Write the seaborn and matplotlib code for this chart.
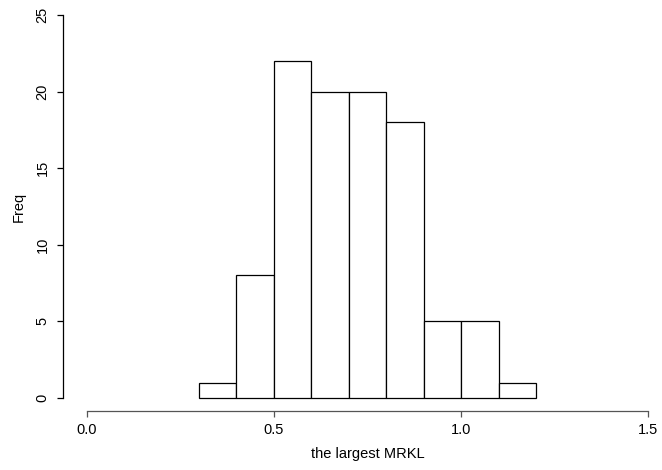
import numpy as np
import pandas as pd
import matplotlib
matplotlib.use("Agg")
import matplotlib.pyplot as plt
import seaborn as sns

bin_edges = [0.3, 0.4, 0.5, 0.6, 0.7, 0.8, 0.9, 1.0, 1.1, 1.2]
counts = [1, 8, 22, 20, 20, 18, 5, 5, 1]
x_ticks = [0.0, 0.5, 1.0, 1.5]
x_tick_labels = ["0.0", "0.5", "1.0", "1.5"]
y_ticks = [0, 5, 10, 15, 20, 25]
y_tick_labels = ["0", "5", "10", "15", "20", "25"]

sns.set_style("white")
plt.rcParams['font.family'] = ['Liberation Sans', 'DejaVu Sans']

W, H = 662, 470
fig = plt.figure(figsize=(W / 100, H / 100), dpi=100)
x0, x1 = 86.7, 648.4
y0, y1 = 398, 15
ax = fig.add_axes([x0 / W, (H - y0) / H, (x1 - x0) / W, (y0 - y1) / H])

centers = [(a + b) / 2 for a, b in zip(bin_edges[:-1], bin_edges[1:])]
df = pd.DataFrame({"x": centers, "w": counts})
sns.histplot(data=df, x="x", weights="w", bins=bin_edges, ax=ax,
             color="white", edgecolor="black", linewidth=0.9, alpha=1)
for p in ax.patches:
    p.set_clip_on(False)
    p.set_facecolor("white")
    p.set_edgecolor("black")

ax.set_xlim(0, 1.5)
ax.set_ylim(0, 25)
ax.spines['top'].set_visible(False)
ax.spines['right'].set_visible(False)
ax.spines['bottom'].set_position(('outward', 13 * 0.72))
ax.spines['left'].set_position(('outward', 24 * 0.72))
ax.spines['bottom'].set_bounds(0, 1.5)
ax.spines['left'].set_bounds(0, 25)
ax.spines['bottom'].set_color("#555555")
ax.spines['left'].set_color("black")
ax.spines['bottom'].set_linewidth(0.9)
ax.spines['left'].set_linewidth(0.9)

fs = 10.5
ax.set_xticks(x_ticks)
ax.set_xticklabels(x_tick_labels)
ax.set_yticks(y_ticks)
ax.set_yticklabels(y_tick_labels, rotation=90, va="center")
ax.tick_params(axis='x', direction='out', length=4, width=0.9, color="#555555",
               labelsize=fs, pad=5, bottom=True, labelcolor="black")
ax.tick_params(axis='y', direction='out', length=4.5, width=0.9, color="black",
               labelsize=fs, pad=5, left=True, labelcolor="black")
ax.set_xlabel("the largest MRKL", fontsize=fs, labelpad=7, color="black")
ax.set_ylabel("Freq", fontsize=fs, labelpad=7, color="black")
ax.grid(False)

fig.savefig("out.png", dpi=100)
